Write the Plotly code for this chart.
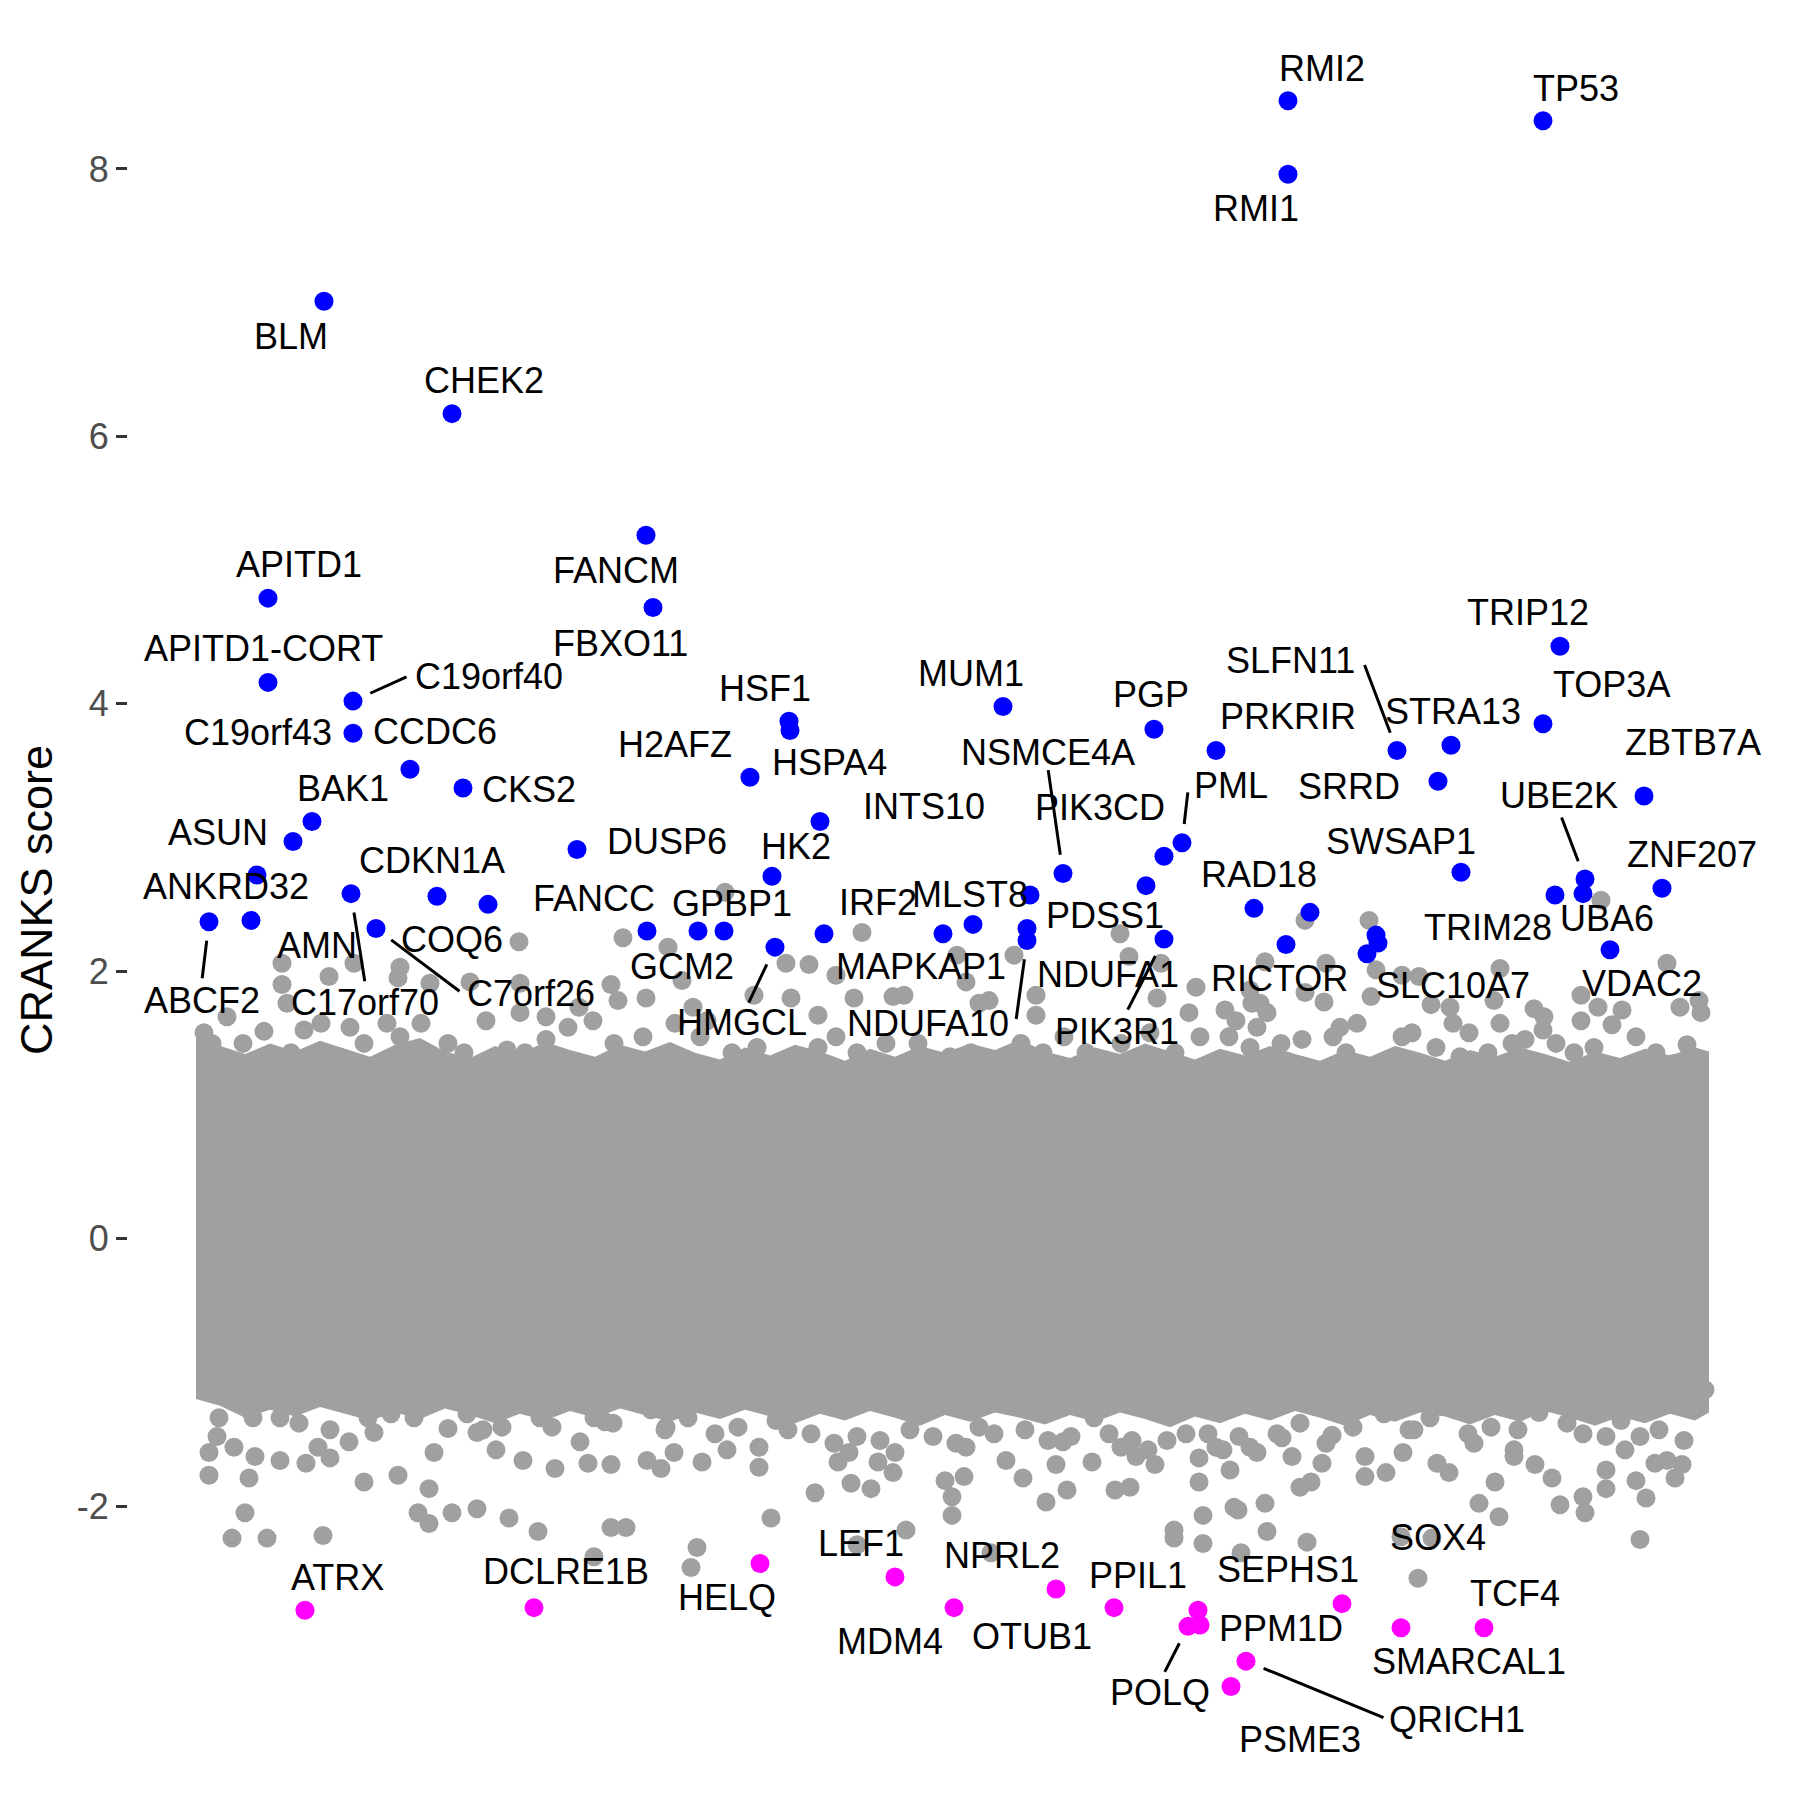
import plotly.graph_objects as go

# --- data -------------------------------------------------------------
# x = gene order along the genome (no axis drawn), y = CRANKS score

# dense core of non-significant genes: upper and lower envelope
core_upper_pos = [196, 220, 245, 270, 295, 320, 345, 370, 395, 420, 445, 470, 495, 520, 545, 570,
                  595, 620, 645, 670, 695, 720, 745, 770, 795, 820, 845, 870, 895, 920, 945, 970,
                  995, 1020, 1045, 1070, 1095, 1120, 1145, 1170, 1195, 1220, 1245, 1270, 1295, 1320, 1345, 1370,
                  1395, 1420, 1445, 1470, 1495, 1520, 1545, 1570, 1595, 1620, 1645, 1670, 1695, 1709]
core_upper_score = [1.50, 1.44, 1.38, 1.46, 1.40, 1.48, 1.42, 1.36, 1.45, 1.50, 1.40, 1.35, 1.44, 1.38, 1.47, 1.41,
                    1.36, 1.45, 1.40, 1.47, 1.39, 1.34, 1.43, 1.37, 1.45, 1.40, 1.33, 1.42, 1.36, 1.44, 1.39, 1.46,
                    1.41, 1.49, 1.40, 1.35, 1.43, 1.38, 1.46, 1.40, 1.34, 1.42, 1.37, 1.44, 1.38, 1.33, 1.41, 1.36,
                    1.44, 1.39, 1.33, 1.41, 1.36, 1.43, 1.38, 1.32, 1.40, 1.35, 1.42, 1.37, 1.43, 1.40]
core_lower_pos = [1709, 1695, 1670, 1645, 1620, 1595, 1570, 1545, 1520, 1495, 1470, 1445, 1420, 1395, 1370, 1345,
                  1320, 1295, 1270, 1245, 1220, 1195, 1170, 1145, 1120, 1095, 1070, 1045, 1020, 995, 970, 945,
                  920, 895, 870, 845, 820, 795, 770, 745, 720, 695, 670, 645, 620, 595, 570, 545,
                  520, 495, 470, 445, 420, 395, 370, 345, 320, 295, 270, 245, 220, 196]
core_lower_score = [-1.30, -1.36, -1.31, -1.38, -1.33, -1.40, -1.34, -1.29, -1.37, -1.32, -1.39, -1.33, -1.30, -1.37, -1.32, -1.40,
                    -1.34, -1.29, -1.36, -1.31, -1.38, -1.33, -1.41, -1.35, -1.30, -1.37, -1.32, -1.39, -1.34, -1.30, -1.37, -1.32,
                    -1.40, -1.34, -1.29, -1.36, -1.31, -1.38, -1.33, -1.28, -1.35, -1.30, -1.37, -1.32, -1.27, -1.34, -1.29, -1.36,
                    -1.31, -1.38, -1.32, -1.27, -1.35, -1.30, -1.36, -1.31, -1.26, -1.33, -1.28, -1.34, -1.25, -1.20]

# scattered non-significant genes outside the core
grey_pos = [519, 623, 668, 282, 354, 400, 398, 329, 282, 430, 470, 520, 611, 646, 682, 287, 227, 520, 618, 546,
            204, 243, 264, 304, 321, 350, 387, 421, 448, 486, 568, 593, 675, 693, 364, 507, 643, 700,
            291, 400, 464, 525, 546, 614, 212, 579,
            862, 1120, 725, 786, 809, 836, 957, 966, 1014, 1129, 1161, 754, 791, 854, 893, 904, 979, 989, 1036,
            1036, 1157, 1196, 1225, 1250, 818, 707, 886, 918, 1021, 1121, 1150, 836, 1229, 1064,
            732, 757, 818, 857, 932, 950, 971, 1043, 1086, 1175, 1200, 1250, 1189, 1236, 1252,
            1369, 1305, 1601, 1265, 1326, 1376, 1402, 1419, 1500, 1667, 1305, 1324, 1371, 1260, 1267, 1431, 1450,
            1494, 1534, 1544, 1581, 1598, 1622, 1680, 1699, 1701, 1453, 1469, 1500, 1612, 1543, 1687, 1581, 1357,
            1412, 1340,
            1281, 1302, 1333, 1346, 1388, 1402, 1436, 1460, 1488, 1512, 1525, 1556, 1574, 1594, 1636, 1656, 1674,
            1698, 1257,
            209, 249, 245, 232, 267, 323, 209, 217, 234, 255, 280, 306, 330, 349, 318, 364, 398, 434, 429, 418,
            429, 452, 477, 509, 538, 594, 611, 626, 691, 697, 523, 555, 588, 611, 647, 661, 674, 496, 477, 448,
            374, 580, 605,
            219, 253, 280, 299, 330, 368, 391, 414, 467, 483, 502, 540, 552, 594, 613, 651, 666, 682,
            771, 815, 851, 871, 893, 906, 857, 991, 952, 952, 945, 964, 1006, 1023, 1046, 1067, 1092, 1115, 1130,
            1174, 1174, 1203, 1203, 1199, 1199, 1230, 1234, 1241, 702, 759, 759, 727, 838, 849, 878, 895, 966,
            1056, 1063, 1121, 1155, 1136,
            665, 688, 715, 738, 776, 788, 811, 834, 857, 880, 910, 933, 956, 979, 994, 1025, 1048, 1071, 1094,
            1109, 1132, 1148, 1167, 1186, 1216, 1239,
            1640, 1307, 1267, 1265, 1238, 1401, 1432, 1479, 1499, 1495, 1560, 1585, 1583, 1606, 1606, 1646, 1636,
            1675, 1682, 1684, 1655, 1667, 1552, 1535, 1514, 1449, 1437, 1403, 1386, 1365, 1365, 1300, 1311, 1322,
            1292, 1257, 1282, 1332, 1353, 1409, 1474, 1514, 1539, 1625,
            1208, 1223, 1250, 1277, 1300, 1326, 1384, 1414, 1430, 1468, 1491, 1518, 1537, 1567, 1583, 1606, 1621,
            1640, 1659, 1694, 1705]
grey_score = [2.22, 2.25, 2.18, 2.06, 2.06, 2.03, 1.95, 1.96, 1.90, 1.91, 1.92, 1.91, 1.90, 1.80, 1.93, 1.76, 1.66, 1.69, 1.78, 1.66,
              1.54, 1.46, 1.55, 1.56, 1.61, 1.58, 1.61, 1.61, 1.46, 1.63, 1.58, 1.63, 1.61, 1.73, 1.46, 1.41, 1.51, 1.51,
              1.39, 1.51, 1.39, 1.39, 1.49, 1.46, 1.46, 1.73,
              2.29, 2.28, 2.59, 2.06, 2.05, 1.97, 2.12, 1.92, 2.12, 2.11, 2.06, 1.82, 1.80, 1.80, 1.81, 1.82, 1.76, 1.78, 1.82,
              1.67, 1.80, 1.88, 1.71, 1.86, 1.67, 1.63, 1.46, 1.46, 1.46, 1.46, 1.54, 1.51, 1.51, 1.51,
              1.39, 1.43, 1.43, 1.39, 1.31, 1.36, 1.39, 1.39, 1.39, 1.39, 1.51, 1.43, 1.69, 1.63, 1.76,
              2.38, 2.38, 2.53, 2.07, 2.06, 2.01, 1.97, 1.96, 2.02, 2.06, 1.84, 1.77, 1.81, 1.76, 1.69, 1.75, 1.73,
              1.78, 1.72, 1.66, 1.82, 1.73, 1.71, 1.73, 1.78, 1.69, 1.61, 1.54, 1.61, 1.60, 1.56, 1.45, 1.63, 1.61,
              1.54, 1.58,
              1.46, 1.49, 1.51, 1.39, 1.34, 1.51, 1.43, 1.36, 1.39, 1.46, 1.49, 1.46, 1.39, 1.43, 1.51, 1.39, 1.31,
              1.34, 1.58,
              -1.77, -1.79, -2.05, -2.24, -2.24, -2.22, -1.60, -1.48, -1.56, -1.63, -1.66, -1.68, -1.64, -1.52, -1.56, -1.82, -1.77, -1.60, -1.87, -2.05,
              -2.13, -2.05, -2.02, -2.09, -2.19, -2.38, -2.16, -2.16, -2.46, -2.31, -1.66, -1.72, -1.68, -1.69, -1.66, -1.72, -1.60, -1.58, -1.45, -1.42,
              -1.45, -1.52, -1.37,
              -1.34, -1.34, -1.34, -1.38, -1.43, -1.34, -1.31, -1.34, -1.31, -1.43, -1.41, -1.34, -1.41, -1.34, -1.38, -1.28, -1.41, -1.28,
              -2.09, -1.90, -1.83, -1.87, -1.75, -2.18, -2.29, -2.35, -2.07, -1.93, -1.81, -1.78, -1.66, -1.79, -1.97, -1.88, -1.67, -1.88, -1.86,
              -2.18, -2.24, -2.07, -2.28, -1.82, -1.64, -1.73, -2.01, -2.35, -1.67, -1.71, -1.56, -1.58, -1.67, -1.60, -1.67, -1.60, -1.56,
              -1.69, -1.52, -1.56, -1.69, -1.63,
              -1.43, -1.34, -1.46, -1.41, -1.36, -1.43, -1.46, -1.53, -1.48, -1.51, -1.43, -1.48, -1.53, -1.41, -1.46, -1.43, -1.51, -1.48, -1.34,
              -1.46, -1.51, -1.58, -1.51, -1.46, -1.56, -1.48,
              -2.25, -2.27, -2.19, -1.98, -2.03, -2.23, -2.24, -1.98, -2.08, -1.82, -1.99, -2.05, -1.93, -1.87, -1.73, -1.94, -1.81,
              -1.79, -1.69, -1.51, -1.68, -1.66, -1.79, -1.69, -1.63, -1.75, -1.68, -1.60, -1.75, -1.78, -1.63, -1.86, -1.82, -1.68,
              -1.63, -1.60, -1.49, -1.47, -1.41, -1.43, -1.53, -1.58, -1.30, -1.58,
              -1.46, -1.58, -1.56, -1.46, -1.38, -1.53, -1.31, -1.43, -1.34, -1.46, -1.41, -1.43, -1.28, -1.38, -1.46, -1.48, -1.36,
              -1.48, -1.43, -1.23, -1.13]

# labelled non-significant gene
grey_label_gene = ["SOX4"]
grey_label_pos = [1418]
grey_label_score = [-2.54]

# positively selected genes (blue)
blue_genes = ["RMI2", "RMI1", "TP53", "BLM", "CHEK2", "FANCM", "FBXO11", "APITD1", "APITD1-CORT", "C19orf40",
              "C19orf43", "CCDC6", "CKS2", "BAK1", "ASUN", "ANKRD32", "ABCF2", "AMN", "C17orf70", "C7orf26",
              "CDKN1A", "COQ6", "DUSP6", "FANCC", "GCM2", "GPBP1", "HSF1", "HSPA4", "H2AFZ", "INTS10",
              "HK2", "HMGCL", "IRF2", "MAPKAP1", "", "MUM1", "MLST8", "NDUFA1", "NDUFA10", "NSMCE4A",
              "PGP", "PRKRIR", "PDSS1", "PIK3CD", "PML", "PIK3R1", "RAD18", "", "RICTOR", "",
              "", "SLC10A7", "SLFN11", "STRA13", "SRRD", "SWSAP1", "TRIP12", "TOP3A", "ZBTB7A", "UBE2K",
              "UBA6", "TRIM28", "ZNF207", "VDAC2"]
blue_pos = [1288, 1288, 1543, 324, 452, 646, 653, 268, 268, 353,
            353, 410, 463, 312, 293, 257, 209, 251, 351, 376,
            437, 488, 577, 647, 698, 724, 789, 790, 750, 820,
            772, 775, 824, 943, 973, 1003, 1030, 1027, 1027, 1063,
            1154, 1216, 1146, 1164, 1182, 1164, 1254, 1310, 1286, 1376,
            1378, 1367, 1397, 1451, 1438, 1461, 1560, 1543, 1644, 1585,
            1583, 1555, 1662, 1610]
blue_score = [8.51, 7.96, 8.36, 7.01, 6.17, 5.26, 4.72, 4.79, 4.16, 4.02,
              3.78, 3.51, 3.37, 3.12, 2.97, 2.72, 2.37, 2.38, 2.58, 2.32,
              2.56, 2.50, 2.91, 2.30, 2.30, 2.30, 3.87, 3.80, 3.45, 3.12,
              2.71, 2.18, 2.28, 2.28, 2.35, 3.98, 2.57, 2.32, 2.23, 2.73,
              3.81, 3.65, 2.64, 2.86, 2.96, 2.24, 2.47, 2.44, 2.20, 2.27,
              2.21, 2.13, 3.65, 3.69, 3.42, 2.74, 4.43, 3.85, 3.31, 2.69,
              2.58, 2.57, 2.62, 2.16]

# negatively selected genes (magenta)
mag_genes = ["ATRX", "DCLRE1B", "HELQ", "LEF1", "MDM4", "NPRL2", "OTUB1", "PPIL1", "POLQ", "PPM1D",
             "SEPHS1", "QRICH1", "PSME3", "SMARCAL1", "TCF4"]
mag_pos = [305, 534, 760, 895, 954, 1056, 1114, 1198, 1188, 1200, 1342, 1246, 1231, 1401, 1484]
mag_score = [-2.78, -2.76, -2.43, -2.53, -2.76, -2.62, -2.76, -2.78, -2.90, -2.89,
             -2.73, -3.16, -3.35, -2.91, -2.91]

# --- label placement (pixel offsets from the point, repel-style) ------
label_offset = {
    "RMI2": (34, -32), "RMI1": (-32, 34), "TP53": (33, -32), "BLM": (-33, 35), "CHEK2": (32, -33),
    "FANCM": (-30, 35), "FBXO11": (-33, 36), "APITD1": (31, -34), "APITD1-CORT": (-5, -34),
    "C19orf40": (136, -25), "C19orf43": (-95, -1), "CCDC6": (25, -38), "CKS2": (66, 1), "BAK1": (31, -33),
    "ASUN": (-75, -9), "ANKRD32": (-31, 12), "ABCF2": (-7, 79), "AMN": (66, 25), "C17orf70": (14, 109),
    "C7orf26": (155, 65), "CDKN1A": (-5, -36), "COQ6": (-36, 35), "DUSP6": (90, -8), "FANCC": (-53, -33),
    "GCM2": (-16, 35), "GPBP1": (8, -28), "HSF1": (-24, -33), "H2AFZ": (-75, -33), "HSPA4": (39, 32),
    "INTS10": (104, -15), "HK2": (24, -30), "HMGCL": (-33, 75), "IRF2": (54, -31), "MAPKAP1": (-22, 33),
    "MUM1": (-32, -33), "MLST8": (-60, 0), "NDUFA1": (81, 46), "NDUFA10": (-99, 83), "NSMCE4A": (-15, -121),
    "PGP": (-3, -35), "PRKRIR": (72, -34), "PDSS1": (-41, 30), "PIK3CD": (-64, -49), "PML": (49, -57),
    "PIK3R1": (-47, 92), "RAD18": (5, -34), "RICTOR": (-7, 34), "SLC10A7": (86, 32), "SLFN11": (-107, -90),
    "STRA13": (2, -34), "SRRD": (-89, 5), "SWSAP1": (-60, -31), "TRIP12": (-32, -34), "TOP3A": (68, -39),
    "ZBTB7A": (49, -54), "UBE2K": (-26, -83), "TRIM28": (-67, 33), "UBA6": (24, 25), "ZNF207": (30, -34),
    "VDAC2": (32, 34),
    "ATRX": (32, -33), "DCLRE1B": (32, -36), "HELQ": (-33, 34), "LEF1": (-34, -33), "MDM4": (-64, 34),
    "NPRL2": (-54, -33), "OTUB1": (-82, 29), "PPIL1": (-60, -35), "POLQ": (-28, 66), "PPM1D": (81, 3),
    "SEPHS1": (-54, -34), "SOX4": (20, -41), "TCF4": (31, -34), "SMARCAL1": (68, 34), "QRICH1": (211, 58),
    "PSME3": (69, 53),
}
# leader segments: far end offset from the point
segment_end = {
    "C19orf40": (55, -25), "ABCF2": (-7, 58), "C17orf70": (14, 89), "C7orf26": (85, 64),
    "HMGCL": (-27, 57), "NDUFA10": (-11, 80), "NSMCE4A": (-15, -105), "PML": (6, -52),
    "PIK3R1": (-37, 72), "SLFN11": (-33, -87), "UBE2K": (-24, -63), "POLQ": (-24, 47),
    "QRICH1": (139, 57),
}

GREY = "#a0a0a0"
FONT = "Liberation Sans, Arial, sans-serif"
PT = 19

fig = go.Figure()

fig.add_trace(go.Scatter(
    x=core_upper_pos + core_lower_pos,
    y=core_upper_score + core_lower_score,
    mode="lines", fill="toself", fillcolor=GREY,
    line=dict(width=0, color=GREY), hoverinfo="skip"
))
fig.add_trace(go.Scatter(
    x=grey_pos + grey_label_pos, y=grey_score + grey_label_score, mode="markers",
    marker=dict(size=PT, color=GREY, line=dict(width=0)), hoverinfo="y"
))
fig.add_trace(go.Scatter(
    x=blue_pos, y=blue_score, mode="markers", text=blue_genes,
    marker=dict(size=PT, color="#0000ff", line=dict(width=0)), hoverinfo="text+y"
))
fig.add_trace(go.Scatter(
    x=mag_pos, y=mag_score, mode="markers", text=mag_genes,
    marker=dict(size=PT, color="#ff00ff", line=dict(width=0)), hoverinfo="text+y"
))

points = {}
for genes, xs, ys in [(blue_genes, blue_pos, blue_score), (mag_genes, mag_pos, mag_score),
                      (grey_label_gene, grey_label_pos, grey_label_score)]:
    for g, x, y in zip(genes, xs, ys):
        if g:
            points[g] = (x, y)

for g, (dx, dy) in label_offset.items():
    x, y = points[g]
    fig.add_annotation(
        x=x, y=y, ax=dx, ay=dy, text=g, showarrow=True,
        arrowcolor="rgba(0,0,0,0)", arrowwidth=0.1,
        font=dict(family=FONT, size=36, color="black")
    )

for g, (sx, sy) in segment_end.items():
    x, y = points[g]
    fig.add_annotation(
        x=x, y=y, ax=sx, ay=sy, text="", showarrow=True,
        arrowhead=0, arrowwidth=3, arrowcolor="black", standoff=19
    )

# page body adds an 8px offset, so the figure is 1792 wide with margins shifted by 8
fig.update_layout(
    width=1792, height=1792,
    margin=dict(l=120, r=20, t=12, b=20),
    plot_bgcolor="white", paper_bgcolor="white",
    showlegend=False,
    font=dict(family=FONT),
    xaxis=dict(range=[128, 1780], visible=False),
    yaxis=dict(
        range=[-4.049, 9.114], automargin=False,
        tickvals=[-2, 0, 2, 4, 6, 8], ticktext=["-2", "0", "2", "4", "6", "8"],
        ticks="outside", ticklen=11, tickwidth=3, tickcolor="#333333",
        tickfont=dict(family=FONT, size=36, color="#4d4d4d"),
        ticklabelstandoff=0,
        showgrid=False, zeroline=False, showline=False,
        title=dict(text="CRANKS score", font=dict(family=FONT, size=45, color="black"), standoff=10),
    ),
)

fig.write_html("out.html")
